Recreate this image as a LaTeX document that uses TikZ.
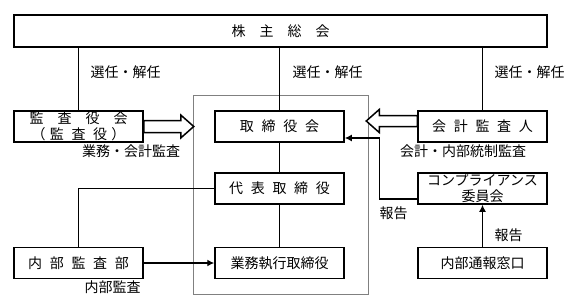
\documentclass[tikz,border=0pt]{standalone}
\usepackage{fontspec}
\setmainfont{Noto Sans CJK JP}
\usetikzlibrary{arrows.meta,positioning}

\newcommand\gp{\hspace{.55em}}

\begin{document}
\begin{tikzpicture}[x=1pt, y=-1pt, >={Latex[length=7pt,width=7pt]},
  font=\fontsize{14}{15.5}\selectfont,
  box/.style={draw, line width=1.5pt, minimum width=129pt, minimum height=31pt,
    inner sep=0pt, align=center},
  link/.style={line width=1.5pt},
  hollow/.style={draw, line width=1.5pt, fill=white}]
  \useasboundingbox (0,0) rectangle (569,302);

  % directors group
  \draw[gray, line width=.8pt] (193,95) rectangle (368,294);

  % boxes
  \node[box, minimum width=533pt, minimum height=32pt] (gm) at (280.5,31) {株　主　総　会};
  \node[box] (kansa) at (78.5,126.5) {監　査　役　会\\（\hspace{.3em}監\gp 査\gp 役\hspace{.3em}）};
  \node[box] (tori) at (279.5,126.5) {取\gp 締\gp 役\gp 会};
  \node[box] (kaikei) at (482.5,126.5) {会\gp 計\gp 監\gp 査\gp 人};
  \node[box] (daihyo) at (279.5,188.5) {代\gp 表\gp 取\gp 締\gp 役};
  \node[box] (comp) at (482.5,188.5) {コンプライアンス\\委員会};
  \node[box] (naibu) at (78.5,263) {内\gp 部\gp 監\gp 査\gp 部};
  \node[box] (gyomu) at (279.5,263) {業務執行取締役};
  \node[box] (tsuho) at (482.5,263) {内部通報窓口};

  % election lines
  \draw[link] (gm.south -| kansa.north) -- (kansa.north);
  \draw[link] (gm.south -| tori.north) -- (tori.north);
  \draw[link] (gm.south -| kaikei.north) -- (kaikei.north);
  \node[anchor=west] (sel1) at (87,72) {選任・解任};
  \node[anchor=west] (sel2) at (289,72) {選任・解任};
  \node[anchor=west] (sel3) at (491,72) {選任・解任};

  % chain of command
  \draw[link] (tori) -- (daihyo) -- (gyomu);

  % audit arrows
  \draw[hollow] ([yshift=6pt]kansa.east) -- ++(37,0) -- ++(0,-5.5) -- ++(13,11.5)
    -- ++(-13,11.5) -- ++(0,-5.5) -- ([yshift=-6pt]kansa.east) -- cycle;
  \node (aud1) at (131,151) {業務・会計監査};
  \draw[hollow] ([yshift=11pt]kaikei.west) -- ++(-38,0) -- ++(0,-6) -- ++(-13,11.5)
    -- ++(13,11.5) -- ++(0,-6) -- (kaikei.west) -- cycle;
  \node (aud2) at (463,151) {会計・内部統制監査};

  % internal audit
  \draw[link] (naibu.north) |- (daihyo.west);
  \draw[link,->] (naibu) -- (gyomu);
  \node[anchor=west] (aud3) at (81,287) {内部監査};

  % reports
  \draw[link,->] ([yshift=-10.5pt]comp.west) -- ++(-38,0) |- ([yshift=-11.5pt]tori.east);
  \node[anchor=west] (rep1) at (376,213) {報告};
  \draw[link,->] (tsuho) -- (comp);
  \node[anchor=west] (rep2) at (491,235) {報告};
\end{tikzpicture}
\end{document}
